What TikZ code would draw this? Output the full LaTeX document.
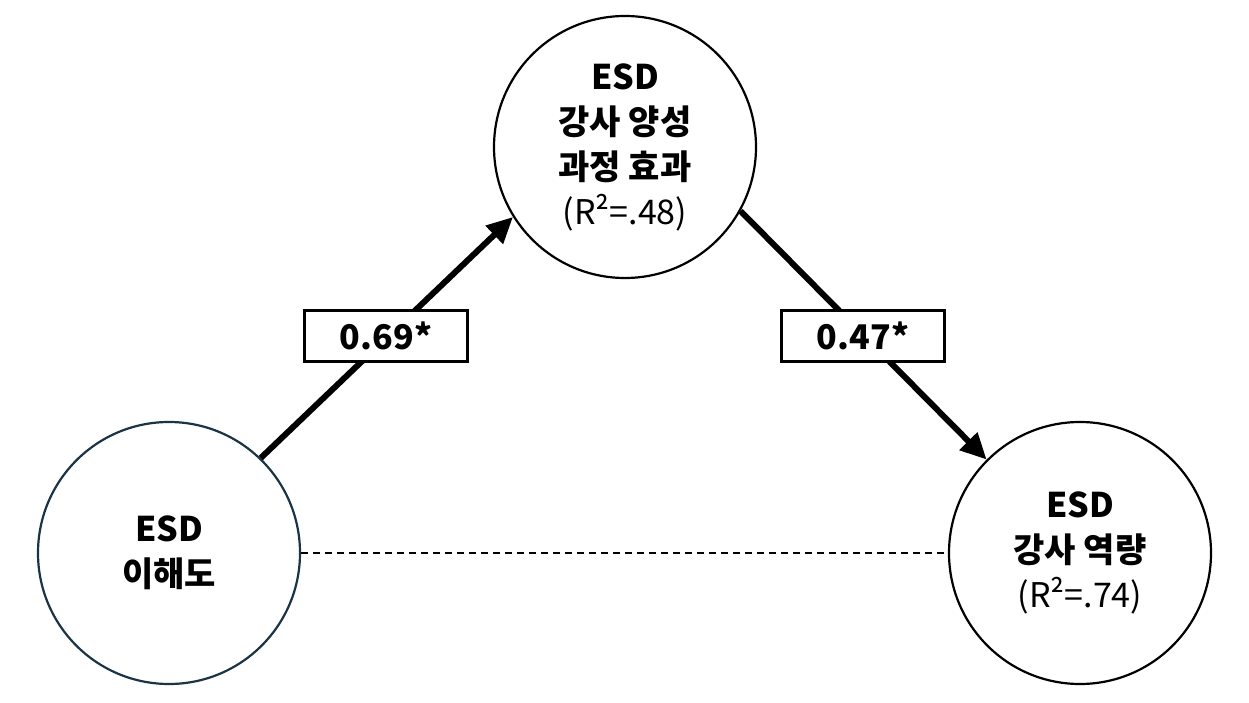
\documentclass[tikz,border=0pt]{standalone}
\usepackage{fontspec}
\setmainfont{Noto Sans CJK KR}
\usetikzlibrary{arrows.meta}
\definecolor{tealedge}{HTML}{1B3445}
\begin{document}
\begin{tikzpicture}[x=1pt,y=-1pt,
  var/.style={circle,draw,line width=2.2pt,minimum size=262pt,inner sep=0pt,align=center,font=\fontsize{34}{45}\selectfont\bfseries},
  path/.style={line width=6pt,-{Triangle[length=26pt,width=24pt]}},
  coef/.style={draw,line width=3pt,fill=white,minimum width=163pt,minimum height=51pt,font=\fontsize{34}{38}\selectfont\bfseries},
  ]
\useasboundingbox (0,0) rectangle (1249,703);
\node[var,draw=tealedge] (a) at (169,553) {ESD\\이해도};
\node[var] (m) at (625,147) {ESD\\강사 양성\\과정 효과\\{\mdseries (R²=.48)}};
\node[var] (y) at (1080,553) {ESD\\강사 역량\\{\mdseries (R²=.74)}};
\draw[dashed,dash pattern=on 7pt off 5pt,line width=1.5pt] (a.east) -- (y.west);
\draw[path] (a.46) -- (m.212);
\draw[path] (m.-29) -- (y.135);
\node[coef] (c1) at (386,336) {0.69*};
\node[coef] (c2) at (863,336) {0.47*};
\end{tikzpicture}
\end{document}
